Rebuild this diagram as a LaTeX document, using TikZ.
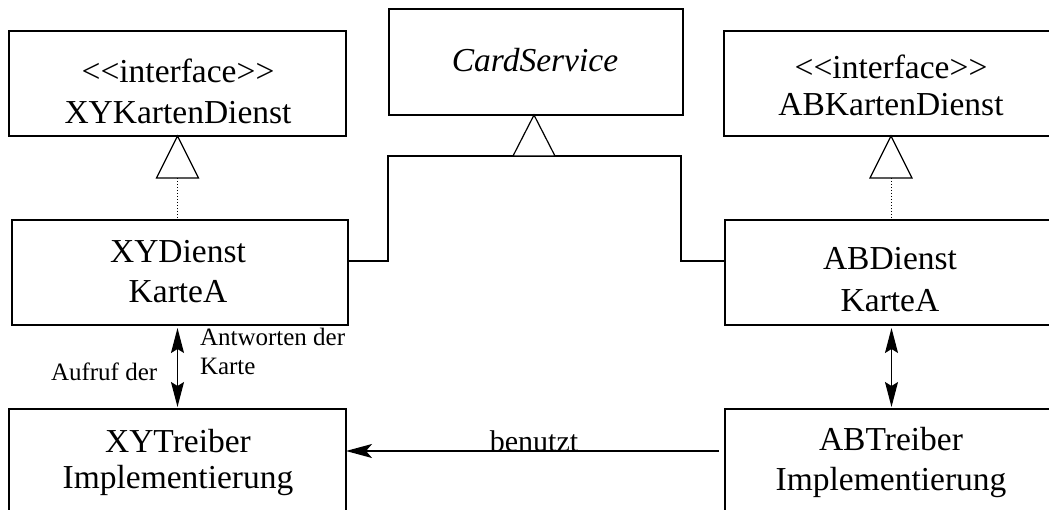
\documentclass[tikz,border=0pt]{standalone}
\usepackage{fontspec}
\setmainfont{Liberation Serif}
\usetikzlibrary{arrows.meta,calc}

\begin{document}
\begin{tikzpicture}[x=1pt,y=-1pt,
  every node/.style={inner sep=0pt,outer sep=0pt},
  classbox/.style={draw,line width=1.2pt,rectangle,anchor=north west},
  maintext/.style={anchor=base,font=\fontsize{33.5}{40}\selectfont},
  smalltext/.style={anchor=base west,font=\fontsize{25}{30}\selectfont},
  edge/.style={line width=1.2pt},
  realize/.style={line width=1pt,dotted},
  gentri/.style={line width=1.2pt,fill=white},
  calls/.style={line width=1.2pt,{Stealth[length=25pt,width=13pt,inset=4pt]}-{Stealth[length=25pt,width=13pt,inset=4pt]}},
  uses/.style={line width=1.2pt,-{Stealth[length=26pt,width=14pt,inset=6pt]}}
]
\useasboundingbox (0,0) rectangle (1049,510);
\clip (0,0) rectangle (1049,510);

% class boxes
\node[classbox,minimum width=337pt,minimum height=105pt] (xyk) at (9,31) {};
\node[classbox,minimum width=294pt,minimum height=106pt] (cs)  at (389,9) {};
\node[classbox,minimum width=334pt,minimum height=105pt] (abk) at (724,31) {};
\node[classbox,minimum width=336pt,minimum height=105pt] (xyd) at (12,220) {};
\node[classbox,minimum width=333pt,minimum height=105pt] (abd) at (725,220) {};
\node[classbox,minimum width=337pt,minimum height=140pt] (xyt) at (9,409) {};
\node[classbox,minimum width=333pt,minimum height=140pt] (abt) at (725,409) {};

% box texts
\node[maintext] (xyk1) at (178,83)  {<{}<interface>{}>};
\node[maintext] (xyk2) at (178,124) {XYKartenDienst};
\node[maintext] (cs1)  at (535,72)  {\itshape CardService};
\node[maintext] (abk1) at (891,79)  {<{}<interface>{}>};
\node[maintext] (abk2) at (891,116) {ABKartenDienst};
\node[maintext] (xyd1) at (178,263) {XYDienst};
\node[maintext] (xyd2) at (178,303) {KarteA};
\node[maintext] (abd1) at (890,270) {ABDienst};
\node[maintext] (abd2) at (890,312) {KarteA};
\node[maintext] (xyt1) at (178,452) {XYTreiber};
\node[maintext] (xyt2) at (178,488) {Implementierung};
\node[maintext] (abt1) at (891,450) {ABTreiber};
\node[maintext] (abt2) at (891,490) {Implementierung};

% realization of the interfaces
\coordinate (xyk tri) at ($(xyk.south)+(0,42)$);
\coordinate (abk tri) at ($(abk.south)+(0,42)$);
\draw[realize] (xyk tri) -- (xyk tri |- xyd.north);
\draw[realize] (abk tri) -- (abk tri |- abd.north);
\draw[gentri] (xyk.south) -- ++(-21,42) -- ++(42,0) -- cycle;
\draw[gentri] (abk.south) -- ++(-21,42) -- ++(42,0) -- cycle;

% inheritance from CardService
\coordinate (cs tri) at ($(cs.south)+(-2,41)$);
\draw[edge] ([yshift=-41pt]xyd.north east) -| (388,156) -- (cs tri)
  -- (681,156) |- ([yshift=-41pt]abd.north west);
\draw[gentri] ([xshift=-2pt]cs.south) -- ++(-21,41) -- ++(42,0) -- cycle;

% calls between service and driver
\draw[calls] ([yshift=-3pt]xyd.south -| xyt.north) -- ([yshift=2pt]xyt.north);
\draw[calls] ([yshift=-3pt]abd.south -| abt.north) -- ([yshift=2pt]abt.north);
\node[smalltext] (ans1) at (200,345) {Antworten der};
\node[smalltext] (ans2) at (200,374) {Karte};
\node[smalltext] (call) at (51,380)  {Aufruf der};

% driver usage
\draw[uses] ([xshift=-6pt,yshift=-42pt]abt.north west) -- ([yshift=-42pt]xyt.north east);
\node[anchor=base,font=\fontsize{30}{36}\selectfont] (use) at (534,451) {benutzt};
\end{tikzpicture}
\end{document}
